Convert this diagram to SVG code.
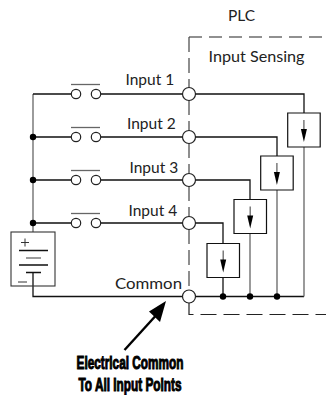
<svg xmlns="http://www.w3.org/2000/svg" width="326" height="395" viewBox="0 0 326 395">
<style>
.w{fill:none;stroke:#111;stroke-width:1.3}
.g{fill:none;stroke:#666;stroke-width:1.3}
.c{fill:#fff;stroke:#222;stroke-width:1.2}
.d{fill:#000}
.box{fill:#fff;stroke:#111;stroke-width:1.2}
.t{font-family:"Lato","Open Sans",sans-serif;font-size:15.5px;fill:#222}
.b{font-family:"Liberation Sans Narrow","Liberation Sans",sans-serif;font-weight:bold;font-size:18px;fill:#000;stroke:#000;stroke-width:1;text-anchor:middle}
</style>
<defs>
<g id="sw"><path class="g" d="M71 -9.500H100"/><circle class="c" cx="76" r="4.700"/><circle class="c" cx="96" r="4.700"/></g>
<g id="ar"><path class="box" d="M0 0h32.500v34h-32.500z"/><path class="g" d="M16.200 7V17"/><path d="M13.200 16h6l-3 13z" fill="#000"/></g>
</defs>
<g id="connectors">
<path class="g" d="M33 94V232"/>
<path class="w" d="M33 94H71M101 94H183M33 137H71M101 137H183M33 180H71M101 180H183M33 223H71M101 223H183"/>
<path class="w" d="M33 272V296.500H183"/>
<path class="w" d="M195 94H304V113M195 137H277V156M195 180H250V199M195 223H223V243"/>
<path class="w" d="M195 296.500H304"/>
<path class="g" d="M304 147V296.500M277 190V296.500M250 233V296.500"/>
<path class="w" d="M223 277V296.500"/>
<path d="M189 37H326" fill="none" stroke="#222" stroke-width="1.100" stroke-dasharray="13 7" />
<path d="M189 37V88M189 100V131M189 143V174M189 186V217M189 229V290" fill="none" stroke="#444" stroke-width="1.200" stroke-dasharray="15 6"/>
<path d="M189 303V314.500H326" fill="none" stroke="#222" stroke-width="1.200" stroke-dasharray="16 7"/>
<path d="M124.500 350L160 311" stroke="#000" stroke-width="2.400" fill="none"/>
<path d="M166 301L149 311.500L160 322z" fill="#000"/>
</g>
<g id="battery">
<rect x="11" y="232" width="44" height="54" fill="none" stroke="#333" stroke-width="1.100"/>
<path class="w" d="M19 250.500H48M19 265H48M26 272.500H41"/>
<path class="g" d="M26 258H41"/>
<path d="M21 242.500H29M25 238.500V246.500M18 282H27" stroke="#333" stroke-width="1" fill="none"/>
</g>
<g id="input1"><use href="#sw" y="94"/><text class="t" x="125.500" y="85">Input 1</text><circle class="c" cx="189" cy="94" r="6.500"/></g>
<g id="input2"><use href="#sw" y="137"/><text class="t" x="127" y="129">Input 2</text><circle class="c" cx="189" cy="137" r="6.500"/></g>
<g id="input3"><use href="#sw" y="180"/><text class="t" x="129.500" y="173">Input 3</text><circle class="c" cx="189" cy="180" r="6.500"/></g>
<g id="input4"><use href="#sw" y="223"/><text class="t" x="128.500" y="216">Input 4</text><circle class="c" cx="189" cy="223" r="6.500"/></g>
<g id="common"><text class="t" x="115" y="289" textLength="67" lengthAdjust="spacingAndGlyphs">Common</text><circle class="c" cx="189" cy="296.500" r="6.500"/></g>
<g id="plc"><text class="t" x="228" y="21">PLC</text><text class="t" x="208.500" y="62" textLength="96" lengthAdjust="spacingAndGlyphs">Input Sensing</text></g>
<g id="sense1"><use href="#ar" x="287.700" y="113"/></g>
<g id="sense2"><use href="#ar" x="260.700" y="156"/></g>
<g id="sense3"><use href="#ar" x="234" y="199.500"/></g>
<g id="sense4"><use href="#ar" x="207" y="243.500"/></g>
<g id="junctions">
<circle class="d" cx="33" cy="137" r="3.200"/><circle class="d" cx="33" cy="180" r="3.200"/><circle class="d" cx="33" cy="223" r="3.200"/>
<circle class="d" cx="223" cy="296.500" r="3.200"/><circle class="d" cx="250" cy="296.500" r="3.200"/><circle class="d" cx="277" cy="296.500" r="3.200"/>
</g>
<g id="note"><text class="b" x="130" y="369" textLength="107" lengthAdjust="spacingAndGlyphs">Electrical Common</text><text class="b" x="130" y="391" textLength="103" lengthAdjust="spacingAndGlyphs">To All Input Points</text></g>
</svg>
